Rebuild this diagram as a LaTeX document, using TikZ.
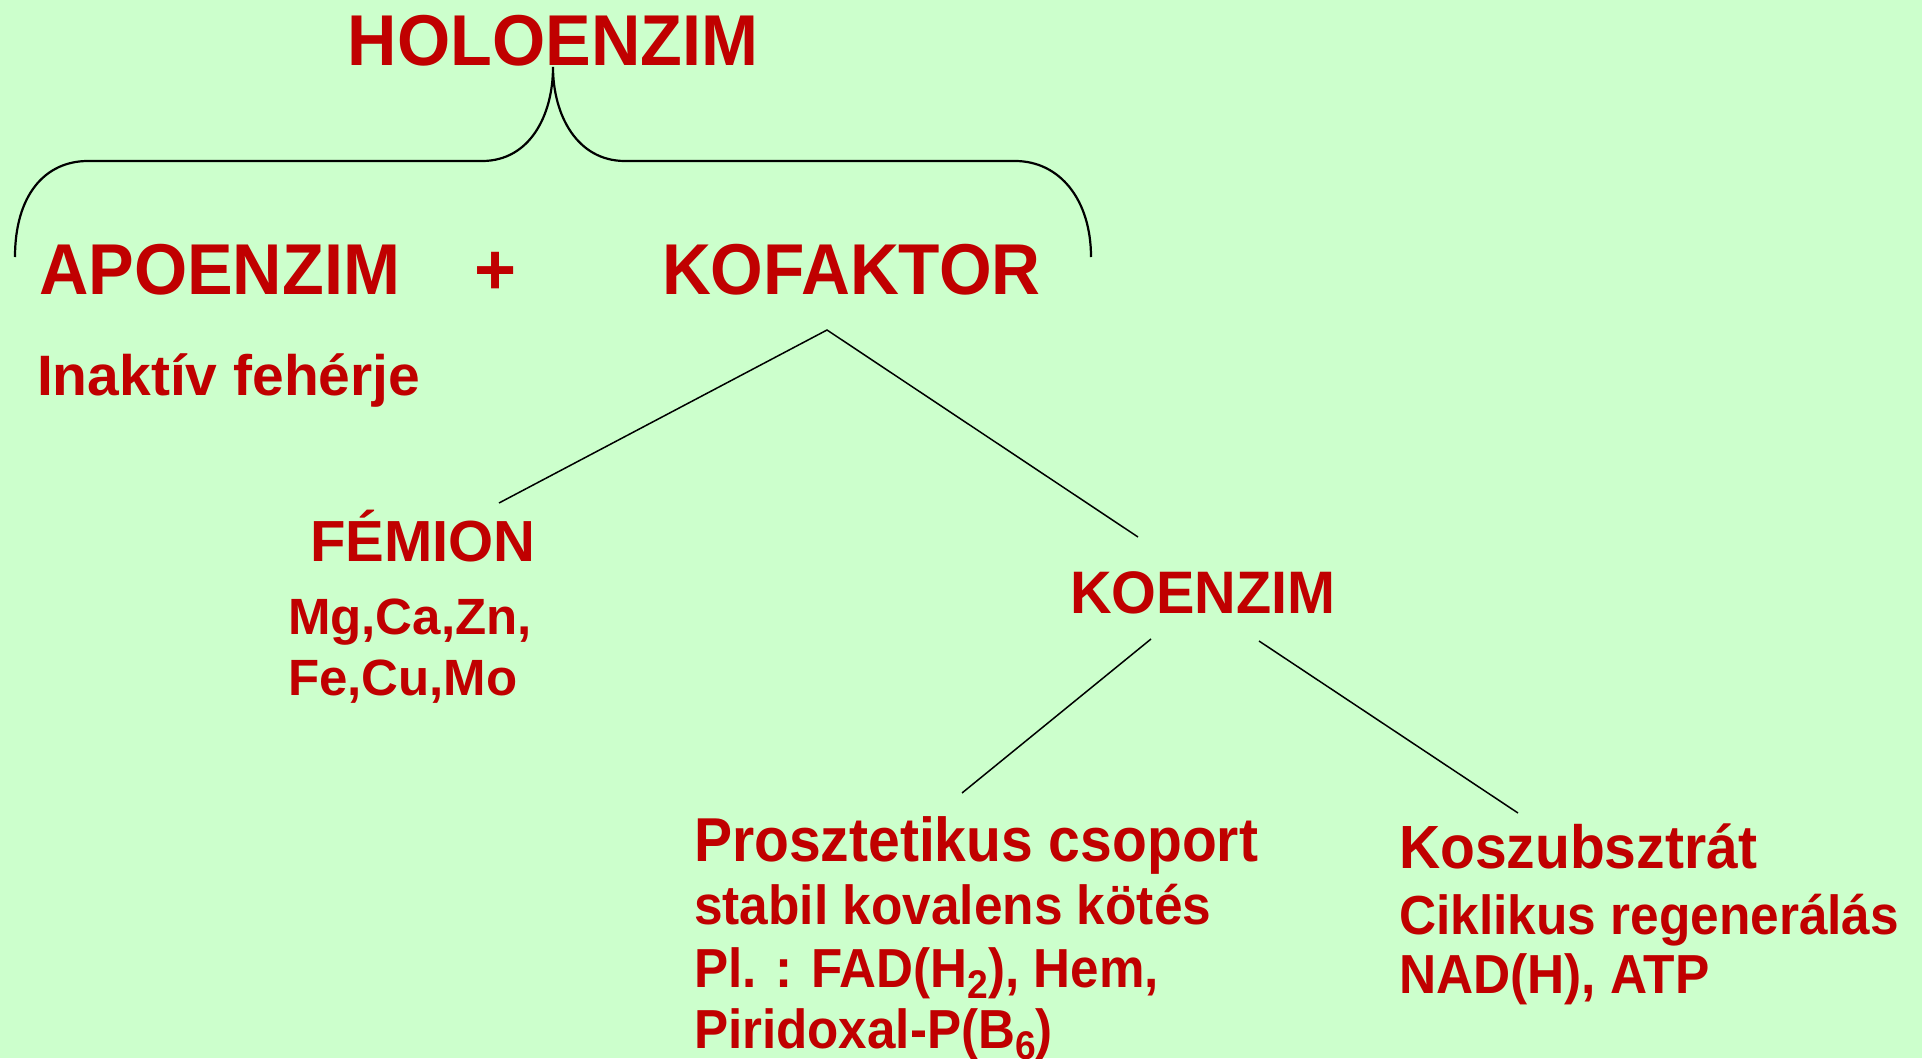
\documentclass[tikz,border=0pt]{standalone}
\usepackage{fontspec}
\usepackage{graphicx}
\setmainfont{Liberation Sans}
\definecolor{bgreen}{RGB}{204,255,204}
\definecolor{txtred}{RGB}{192,0,0}
\newcommand\fsz[1]{\fontsize{#1}{#1}\selectfont\bfseries}
\newcommand\narrow[2]{\scalebox{#1}[1]{#2}}
\newcommand\lowsub[1]{\raisebox{-0.4ex}{\fontsize{40}{40}\selectfont #1}}
\begin{document}
\begin{tikzpicture}[x=1pt,y=-1pt,
  lbl/.style={inner sep=0pt,outer sep=0pt,text=txtred,anchor=base west},
  brace/.style={line width=2.2pt,black},
  link/.style={line width=1.5pt,black}]
  \fill[bgreen] (0,0) rectangle (1922,1058);
  \useasboundingbox (0,0) rectangle (1922,1058);

  % headings
  \node[lbl,anchor=base] (holo) at (553,65) {\fsz{72}\narrow{0.95}{HOLOENZIM}};
  \node[lbl] (apo) at (39,294) {\fsz{72}\narrow{0.95}{APOENZIM}};
  \node[lbl,anchor=base] (plus) at (496,294) {\fsz{72}+};
  \node[lbl] (kof) at (662,294) {\fsz{72}\narrow{0.94}{KOFAKTOR}};
  \node[lbl] (inakt) at (37,395) {\fsz{57}Inaktív fehérje};

  % brace under the holoenzyme
  \coordinate (btop) at (553,67);
  \coordinate (bl) at (15,257);
  \coordinate (br) at (1091,257);
  \draw[brace] (bl) .. controls (15,195) and (45,161) .. (88,161) -- (482,161)
    .. controls (530,161) and (553,115) .. (btop)
    .. controls (553,115) and (577,161) .. (625,161) -- (1015,161)
    .. controls (1060,161) and (1091,200) .. (br);

  % cofactor branches
  \node[lbl] (fem) at (310,561) {\fsz{58}FÉMION};
  \node[lbl] (ions) at (288,634) {\fsz{51}Mg,Ca,Zn,};
  \node[lbl] (ions2) at (288,695) {\fsz{51}Fe,Cu,Mo};
  \node[lbl] (koe) at (1070,613) {\fsz{60}\narrow{0.96}{KOENZIM}};

  \coordinate (kofb) at (827,330);
  \coordinate (femt) at (499,503);
  \coordinate (koet) at (1138,537);
  \draw[link] (femt) -- (kofb) -- (koet);

  % coenzyme branches
  \node[lbl] (proszt) at (694,861) {\fsz{62}\narrow{0.92}{Prosztetikus csoport}};
  \node[lbl] (p2) at (694,924) {\fsz{55}\narrow{0.935}{stabil kovalens kötés}};
  \node[lbl] (p3) at (694,987) {\fsz{55}\narrow{0.93}{Pl. : FAD(H\lowsub{2}), Hem,}};
  \node[lbl] (p4) at (694,1048) {\fsz{55}\narrow{0.93}{Piridoxal-P(B\lowsub{6})}};

  \node[lbl] (kosz) at (1399,868) {\fsz{61}\narrow{0.935}{Koszubsztrát}};
  \node[lbl] (k2) at (1399,934) {\fsz{55}\narrow{0.935}{Ciklikus regenerálás}};
  \node[lbl] (k3) at (1399,993) {\fsz{55}\narrow{0.935}{NAD(H), ATP}};

  \coordinate (koel) at (1151,639);
  \coordinate (koer) at (1259,641);
  \coordinate (proszt t) at (962,793);
  \coordinate (kosz t) at (1518,813);
  \draw[link] (koel) -- (proszt t);
  \draw[link] (koer) -- (kosz t);
\end{tikzpicture}
\end{document}
